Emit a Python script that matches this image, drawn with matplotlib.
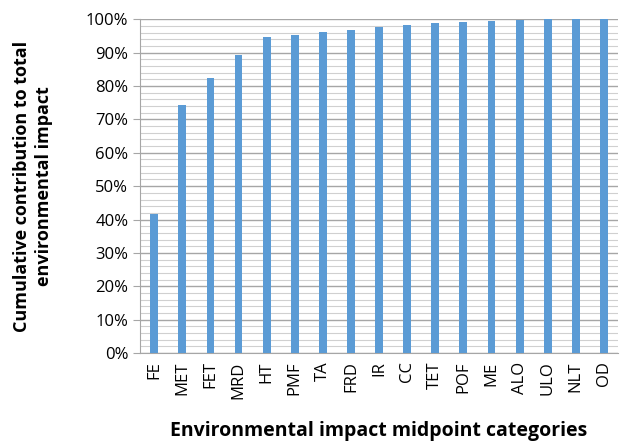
import matplotlib.pyplot as plt
from matplotlib.ticker import MultipleLocator, PercentFormatter

categories = ["FE", "MET", "FET", "MRD", "HT", "PMF", "TA", "FRD", "IR",
              "CC", "TET", "POF", "ME", "ALO", "ULO", "NLT", "OD"]
cumulative = [41.6, 74.3, 82.3, 89.2, 94.6, 95.2, 96.1, 96.9, 97.6,
              98.4, 98.8, 99.1, 99.4, 99.9, 100.0, 100.0, 100.0]

plt.rcParams['font.family'] = ['Open Sans', 'DejaVu Sans']

fig = plt.figure(figsize=(6.23, 4.47), dpi=100)
ax = fig.add_axes([0.225, 0.21, 0.767, 0.747])

x = range(len(categories))
ax.bar(x, cumulative, width=0.28, color="#5b9bd5", zorder=3)

ax.set_xlim(-0.5, len(categories) - 0.5)
ax.set_ylim(0, 100)
ax.yaxis.set_major_locator(MultipleLocator(10))
ax.yaxis.set_minor_locator(MultipleLocator(2))
ax.yaxis.set_major_formatter(PercentFormatter(decimals=0))
ax.grid(which="major", axis="y", color="#a6a6a6", linewidth=1.0, zorder=0)
ax.grid(which="minor", axis="y", color="#d0d0d0", linewidth=0.8, zorder=0)

ax.set_xticks(list(x))
ax.set_xticklabels(categories, rotation=90, fontsize=12)
ax.tick_params(axis="x", length=0, pad=6)
ax.tick_params(axis="y", which="major", length=5, color="#a6a6a6", labelsize=12)
ax.tick_params(axis="y", which="minor", length=0)

for side in ["top", "right"]:
    ax.spines[side].set_visible(False)
for side in ["left", "bottom"]:
    ax.spines[side].set_color("#a6a6a6")

ax.set_ylabel("Cumulative contribution to total\nenvironmental impact",
              fontsize=13, fontweight="bold", labelpad=24, linespacing=1.25)
ax.set_xlabel("Environmental impact midpoint categories",
              fontsize=14, fontweight="bold", labelpad=16)

fig.savefig("out.png", dpi=100)
